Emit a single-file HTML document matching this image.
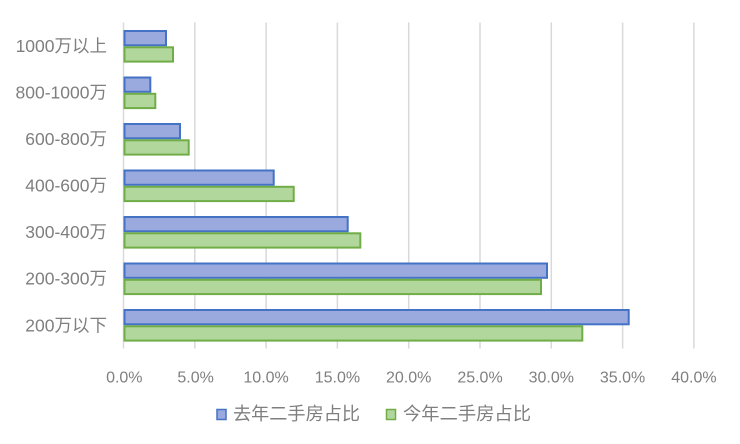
<!DOCTYPE html>
<html>
<head>
<meta charset="utf-8">
<style>
html,body{margin:0;padding:0;background:#fff;}
svg{display:block;}
text{font-family:"Liberation Sans","Noto Sans CJK SC",sans-serif;fill:#7f7f7f;}
</style>
</head>
<body>
<svg width="740" height="444" viewBox="0 0 740 444" xmlns="http://www.w3.org/2000/svg">
  <rect width="740" height="444" fill="#fff"/>
  <!-- gridlines -->
  <g stroke="#d9d9d9" stroke-width="1.5">
    <line x1="123.5" y1="22.5" x2="123.5" y2="348.5"/>
    <line x1="194.8" y1="22.5" x2="194.8" y2="348.5"/>
    <line x1="266.1" y1="22.5" x2="266.1" y2="348.5"/>
    <line x1="337.4" y1="22.5" x2="337.4" y2="348.5"/>
    <line x1="408.7" y1="22.5" x2="408.7" y2="348.5"/>
    <line x1="480.0" y1="22.5" x2="480.0" y2="348.5"/>
    <line x1="551.3" y1="22.5" x2="551.3" y2="348.5"/>
    <line x1="622.6" y1="22.5" x2="622.6" y2="348.5"/>
    <line x1="693.9" y1="22.5" x2="693.9" y2="348.5"/>
  </g>
  <!-- bars: x0=123.5, 14.26px per % ; band 46.5 from y=23 -->
  <g stroke-width="2">
    <!-- 1000万以上 -->
    <rect x="124.5" y="31" width="41.5" height="14.3" fill="#9aaade" stroke="#4472c4"/>
    <rect x="124.5" y="47.3" width="48.5" height="14.3" fill="#b2d79d" stroke="#70ad47"/>
    <!-- 800-1000万 -->
    <rect x="124.5" y="77.5" width="25.8" height="14.3" fill="#9aaade" stroke="#4472c4"/>
    <rect x="124.5" y="93.8" width="30.8" height="14.3" fill="#b2d79d" stroke="#70ad47"/>
    <!-- 600-800万 -->
    <rect x="124.5" y="124" width="55.5" height="14.3" fill="#9aaade" stroke="#4472c4"/>
    <rect x="124.5" y="140.3" width="64.2" height="14.3" fill="#b2d79d" stroke="#70ad47"/>
    <!-- 400-600万 -->
    <rect x="124.5" y="170.5" width="149.2" height="14.3" fill="#9aaade" stroke="#4472c4"/>
    <rect x="124.5" y="186.8" width="169.2" height="14.3" fill="#b2d79d" stroke="#70ad47"/>
    <!-- 300-400万 -->
    <rect x="124.5" y="217" width="223.2" height="14.3" fill="#9aaade" stroke="#4472c4"/>
    <rect x="124.5" y="233.3" width="235.8" height="14.3" fill="#b2d79d" stroke="#70ad47"/>
    <!-- 200-300万 -->
    <rect x="124.5" y="263.5" width="422.5" height="14.3" fill="#9aaade" stroke="#4472c4"/>
    <rect x="124.5" y="279.8" width="416.5" height="14.3" fill="#b2d79d" stroke="#70ad47"/>
    <!-- 200万以下 -->
    <rect x="124.5" y="310" width="504.2" height="14.3" fill="#9aaade" stroke="#4472c4"/>
    <rect x="124.5" y="326.3" width="457.8" height="14.3" fill="#b2d79d" stroke="#70ad47"/>
  </g>
  <!-- category labels -->
  <g font-size="17.5" text-anchor="end">
    <text x="107" y="52">1000万以上</text>
    <text x="107" y="98.5">800-1000万</text>
    <text x="107" y="145">600-800万</text>
    <text x="107" y="191.5">400-600万</text>
    <text x="107" y="238">300-400万</text>
    <text x="107" y="284.5">200-300万</text>
    <text x="107" y="331.5">200万以下</text>
  </g>
  <!-- tick labels -->
  <g font-size="16" text-anchor="middle">
    <text x="124.3" y="382.3">0.0%</text>
    <text x="195.6" y="382.3">5.0%</text>
    <text x="266.1" y="382.3">10.0%</text>
    <text x="337.4" y="382.3">15.0%</text>
    <text x="408.7" y="382.3">20.0%</text>
    <text x="480.0" y="382.3">25.0%</text>
    <text x="551.3" y="382.3">30.0%</text>
    <text x="622.6" y="382.3">35.0%</text>
    <text x="693.9" y="382.3">40.0%</text>
  </g>
  <!-- legend -->
  <rect x="217" y="409.5" width="9" height="10" fill="#9aaade" stroke="#4472c4" stroke-width="1.5"/>
  <text x="233" y="420" font-size="18" textLength="127" lengthAdjust="spacingAndGlyphs">去年二手房占比</text>
  <rect x="386.5" y="409.5" width="9" height="10" fill="#b2d79d" stroke="#70ad47" stroke-width="1.5"/>
  <text x="403" y="420" font-size="18" textLength="128" lengthAdjust="spacingAndGlyphs">今年二手房占比</text>
</svg>
</body>
</html>
